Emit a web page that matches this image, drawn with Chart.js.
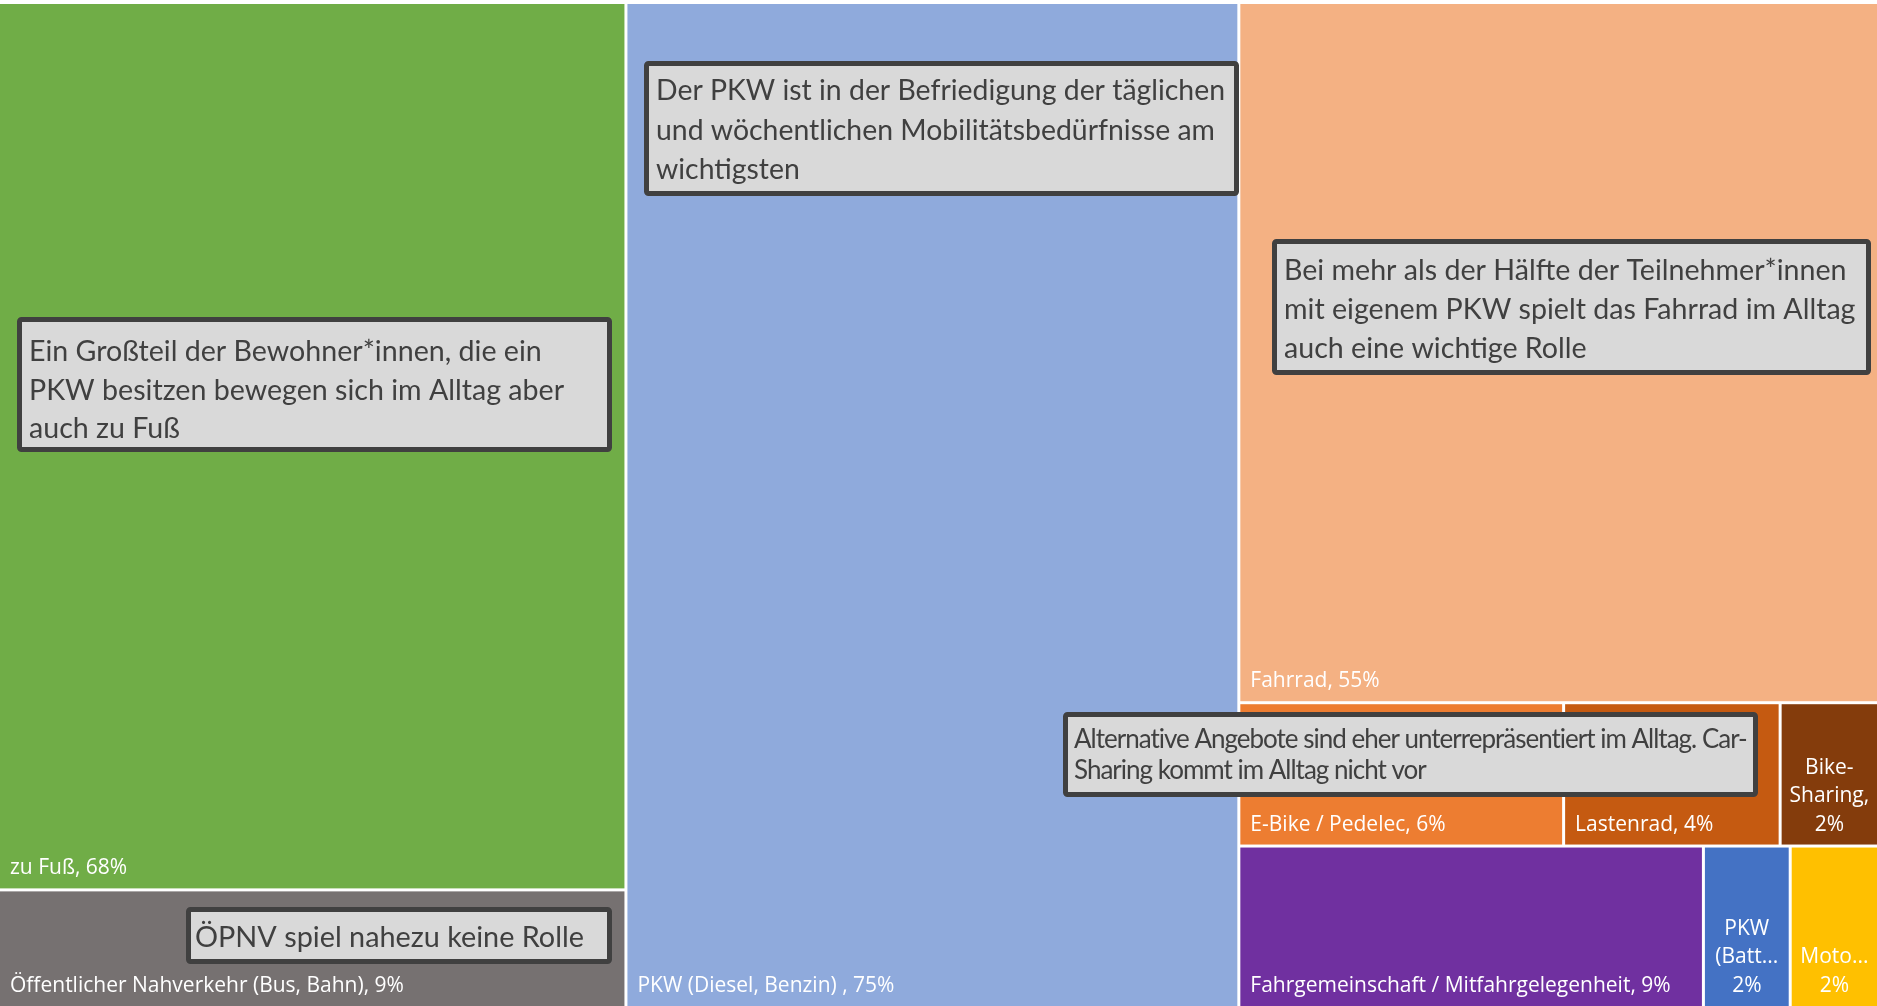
<!DOCTYPE html>
<html>
<head>
<meta charset="utf-8">
<script src="https://cdn.jsdelivr.net/npm/chart.js@4.4.1/dist/chart.umd.min.js"></script>
<style>
  html, body { margin: 0; padding: 0; background: #fff; overflow: hidden; }
  #wrap { position: relative; width: 1877px; height: 1006px; }
</style>
</head>
<body>
<div id="wrap"><canvas id="tree"></canvas></div>
<script>
// shares of participants (percent)
const categories = [
  "zu Fuß",
  "Öffentlicher Nahverkehr (Bus, Bahn)",
  "PKW (Diesel, Benzin) ",
  "Fahrrad",
  "E-Bike / Pedelec",
  "Lastenrad",
  "Bike-Sharing",
  "Fahrgemeinschaft / Mitfahrgelegenheit",
  "PKW (Batterieelektrisch)",
  "Motorrad/Motorroller"
];
const values = [67.9, 8.9, 75.2, 54.6, 5.7, 3.8, 1.7, 9.1, 1.7, 1.7];
const colors = ["#70AD47", "#767171", "#8FAADC", "#F4B183", "#ED7D31", "#C55A11", "#843C0C", "#7030A0", "#4472C4", "#FFC000"];

// columns from left to right; a nested list is a row of cells side by side
const groups = [[0, 1], [2], [3, [4, 5, 6], [7, 8, 9]]];

const notes = [
  { lines: ["Ein Großteil der Bewohner*innen, die ein", "PKW besitzen bewegen sich im Alltag aber", "auch zu Fuß"],
    box: [17, 317, 595, 135], size: 28.6, spacing: 0, top: 35, step: 38.5, padX: 12 },
  { lines: ["Der PKW ist in der Befriedigung der täglichen", "und wöchentlichen Mobilitätsbedürfnisse am", "wichtigsten"],
    box: [644, 61, 595, 135], size: 28.4, spacing: 0, top: 30, step: 39.5, padX: 12 },
  { lines: ["Bei mehr als der Hälfte der Teilnehmer*innen", "mit eigenem PKW spielt das Fahrrad im Alltag", "auch eine wichtige Rolle"],
    box: [1272, 239, 599, 136], size: 28.6, spacing: 0, top: 32, step: 39, padX: 12 },
  { lines: ["Alternative Angebote sind eher unterrepräsentiert im Alltag. Car-", "Sharing kommt im Alltag nicht vor"],
    box: [1063, 712, 695, 85], size: 26, spacing: -1, top: 28, step: 31, padX: 11 },
  { lines: ["ÖPNV spiel nahezu keine Rolle"],
    box: [186, 907, 426, 57], size: 28.8, spacing: 0, top: 31, step: 38, padX: 9 }
];

const LABEL_FONT = '21px "Open Sans"';
const NOTE_FONT = '"Lato"';
const GAP = 3;

const sumOf = g => Array.isArray(g) ? g.reduce((s, i) => s + values[i], 0) : values[g];
const total = values.reduce((a, b) => a + b, 0);

function layoutCells() {
  const cells = [];
  let x0 = 0;
  groups.forEach(col => {
    const colSum = col.reduce((s, g) => s + sumOf(g), 0);
    let y0 = 0;
    col.forEach(g => {
      const h = sumOf(g) / colSum;
      if (Array.isArray(g)) {
        let xi = x0;
        g.forEach(i => {
          const w = values[i] / sumOf(g) * colSum;
          cells.push({ i, x0: xi, x1: xi + w, y0, y1: y0 + h });
          xi += w;
        });
      } else {
        cells.push({ i: g, x0, x1: x0 + colSum, y0, y1: y0 + h });
      }
      y0 += h;
    });
    x0 += colSum;
  });
  return cells;
}

function wrapLabel(ctx, text, avail) {
  const pieces = [];
  text.split(" ").forEach(word => {
    word.split(/(?<=-)/).forEach((p, k) => pieces.push({ p, space: k === 0 }));
  });
  const lines = [];
  let line = "";
  pieces.forEach(({ p, space }) => {
    const tryLine = line ? line + (space ? " " : "") + p : p;
    if (ctx.measureText(tryLine).width <= avail) { line = tryLine; return; }
    if (line) lines.push(line);
    if (ctx.measureText(p).width <= avail) { line = p; return; }
    let cut = p;
    while (cut.length > 1 && ctx.measureText(cut + "...").width > avail) cut = cut.slice(0, -1);
    lines.push(cut + "...");
    line = "";
  });
  if (line) lines.push(line);
  return lines;
}

function drawLabel(ctx, text, l, t, r, b) {
  ctx.font = LABEL_FONT;
  ctx.fillStyle = "#fff";
  ctx.textBaseline = "middle";
  if (ctx.measureText(text).width <= r - l - 20) {
    ctx.textAlign = "left";
    ctx.fillText(text, l + 10, b - 20);
    return;
  }
  const lines = wrapLabel(ctx, text, r - l - 10);
  ctx.textAlign = "center";
  lines.forEach((ln, k) => {
    ctx.fillText(ln, (l + r) / 2, b - 20 - (lines.length - 1 - k) * 28.5);
  });
}

const treemapPlugin = {
  id: "treemap",
  afterDatasetsDraw(chart) {
    const { ctx, chartArea: area, scales: { x, y } } = chart;
    ctx.save();
    layoutCells().forEach(c => {
      let l = x.getPixelForValue(c.x0), r = x.getPixelForValue(c.x1);
      let t = y.getPixelForValue(c.y0), b = y.getPixelForValue(c.y1);
      if (l > area.left + 0.5) l += GAP / 2;
      if (r < area.right - 0.5) r -= GAP / 2;
      if (t > area.top + 0.5) t += GAP / 2;
      if (b < area.bottom - 0.5) b -= GAP / 2;
      ctx.fillStyle = colors[c.i];
      ctx.fillRect(l, t, r - l, b - t);
      drawLabel(ctx, `${categories[c.i]}, ${Math.round(values[c.i])}%`, l, t, r, b);
    });
    ctx.restore();
  },
  afterDraw(chart) {
    const ctx = chart.ctx;
    ctx.save();
    notes.forEach(n => {
      const [bx, by, bw, bh] = n.box;
      ctx.fillStyle = "#D9D9D9";
      ctx.strokeStyle = "#404040";
      ctx.lineWidth = 5;
      ctx.beginPath();
      ctx.roundRect(bx + 2.5, by + 2.5, bw - 5, bh - 5, 2);
      ctx.fill();
      ctx.stroke();
      ctx.fillStyle = "#404040";
      ctx.font = `${n.size}px ${NOTE_FONT}`;
      ctx.letterSpacing = `${n.spacing}px`;
      ctx.textAlign = "left";
      ctx.textBaseline = "middle";
      n.lines.forEach((ln, k) => ctx.fillText(ln, bx + n.padX, by + n.top + k * n.step));
    });
    ctx.restore();
  }
};

new Chart(document.getElementById("tree"), {
  type: "scatter",
  data: { datasets: [{ data: [] }] },
  options: {
    responsive: true,
    maintainAspectRatio: false,
    animation: false,
    layout: { padding: { top: 4 } },
    plugins: { legend: { display: false }, tooltip: { enabled: false } },
    scales: {
      x: { type: "linear", min: 0, max: total, display: false },
      y: { type: "linear", min: 0, max: 1, reverse: true, display: false }
    }
  },
  plugins: [treemapPlugin]
});
</script>
</body>
</html>
